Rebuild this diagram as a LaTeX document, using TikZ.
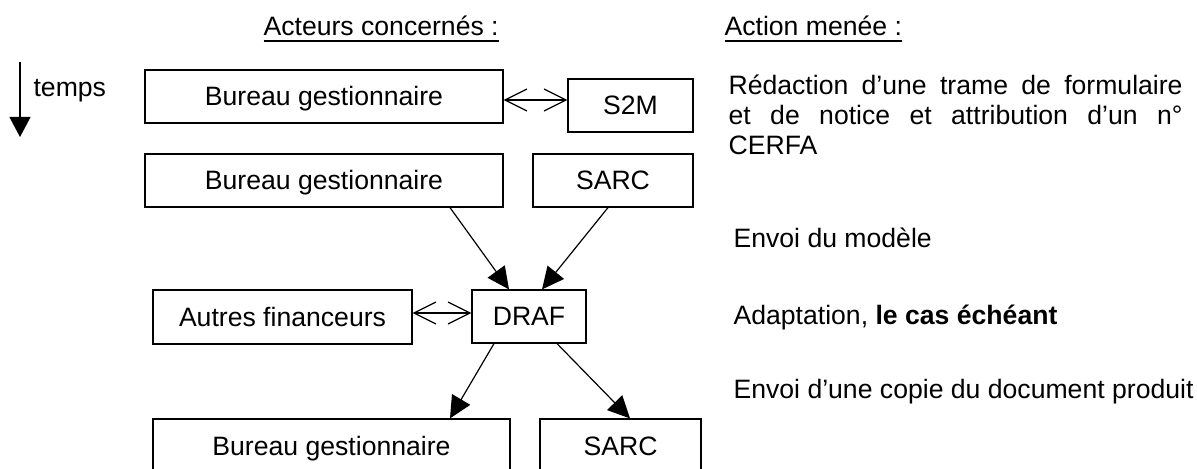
\documentclass[tikz,border=0pt]{standalone}
\usepackage{fontspec}
\setmainfont{Liberation Sans}
\usetikzlibrary{arrows.meta}
\newcommand\souligne[1]{\setbox0\hbox{#1}\rlap{\rule[-3pt]{\wd0}{0.9pt}}\box0}
\begin{document}
\begin{tikzpicture}[x=0.5pt,y=-0.5pt,line width=0.6pt,
      font=\fontsize{13.3}{15}\selectfont,
      acteur/.style={draw,rectangle,inner sep=0pt,text height=9.5pt,text depth=0pt,minimum height=26.5pt},
      envoi/.style={-{Triangle[length=11pt,width=10.5pt]}},
      echange/.style={{Straight Barb[length=11pt,width=11pt]}-{Straight Barb[length=11pt,width=11pt]}},
      texte/.style={anchor=base west,inner sep=0pt}]
         \useasboundingbox (0,0) rectangle (1197,469);
         \node[texte] (titreacteurs) at (263,36) {\souligne{Acteurs concernés :}};
         \node[texte] (titreaction) at (724,36) {\souligne{Action menée :}};
         \coordinate (t0) at (20,62);
         \coordinate (t1) at (20,137);
         \draw[-{Triangle[length=10pt,width=10.5pt]}] (t0) -- (t1);
         \node[texte] (temps) at (33,97) {temps};
         % acteurs
         \node[acteur,minimum width=179pt] (bg1) at (324,96.5) {Bureau gestionnaire};
         \node[acteur,minimum width=62.5pt] (s2m) at (630.5,105.5) {S2M};
         \node[acteur,minimum width=179pt] (bg2) at (324,180.5) {Bureau gestionnaire};
         \node[acteur,minimum width=80pt] (sarc1) at (613,180.5) {SARC};
         \node[acteur,minimum width=129.5pt,minimum height=27pt] (autres) at (282.5,317) {Autres financeurs};
         \node[acteur,minimum width=57pt] (draf) at (529,316.5) {DRAF};
         \node[acteur,minimum width=178.5pt] (bg3) at (331.5,445.5) {Bureau gestionnaire};
         \node[acteur,minimum width=80.5pt] (sarc2) at (620.5,445.5) {SARC};
         % liens
         \draw[echange] ([yshift=-1.75pt]bg1.east) -- ([yshift=2.75pt]s2m.west);
         \draw[echange] ([yshift=2pt]autres.east) -- ([yshift=1.75pt]draf.west);
         \draw[envoi] ([xshift=63pt]bg2.south) -- ([xshift=-10pt]draf.north);
         \draw[envoi] ([xshift=-2.5pt]sarc1.south) -- ([xshift=6.5pt]draf.north);
         \draw[envoi] ([xshift=-17.5pt]draf.south) -- ([xshift=59.25pt]bg3.north);
         \draw[envoi] ([xshift=14pt]draf.south) -- ([xshift=4.75pt]sarc2.north);
         % actions
         \node[texte] (redaction) at (728,95) {\parbox[t]{227pt}{Rédaction d’une trame de formulaire\linebreak et de notice et attribution d’un n°\linebreak CERFA}};
         \node[texte] (modele) at (733,248) {Envoi du modèle};
         \node[texte] (adaptation) at (733,325) {Adaptation, \textbf{le cas échéant}};
         \node[texte] (copie) at (733,399) {Envoi d’une copie du document produit};
      \end{tikzpicture}
\end{document}
